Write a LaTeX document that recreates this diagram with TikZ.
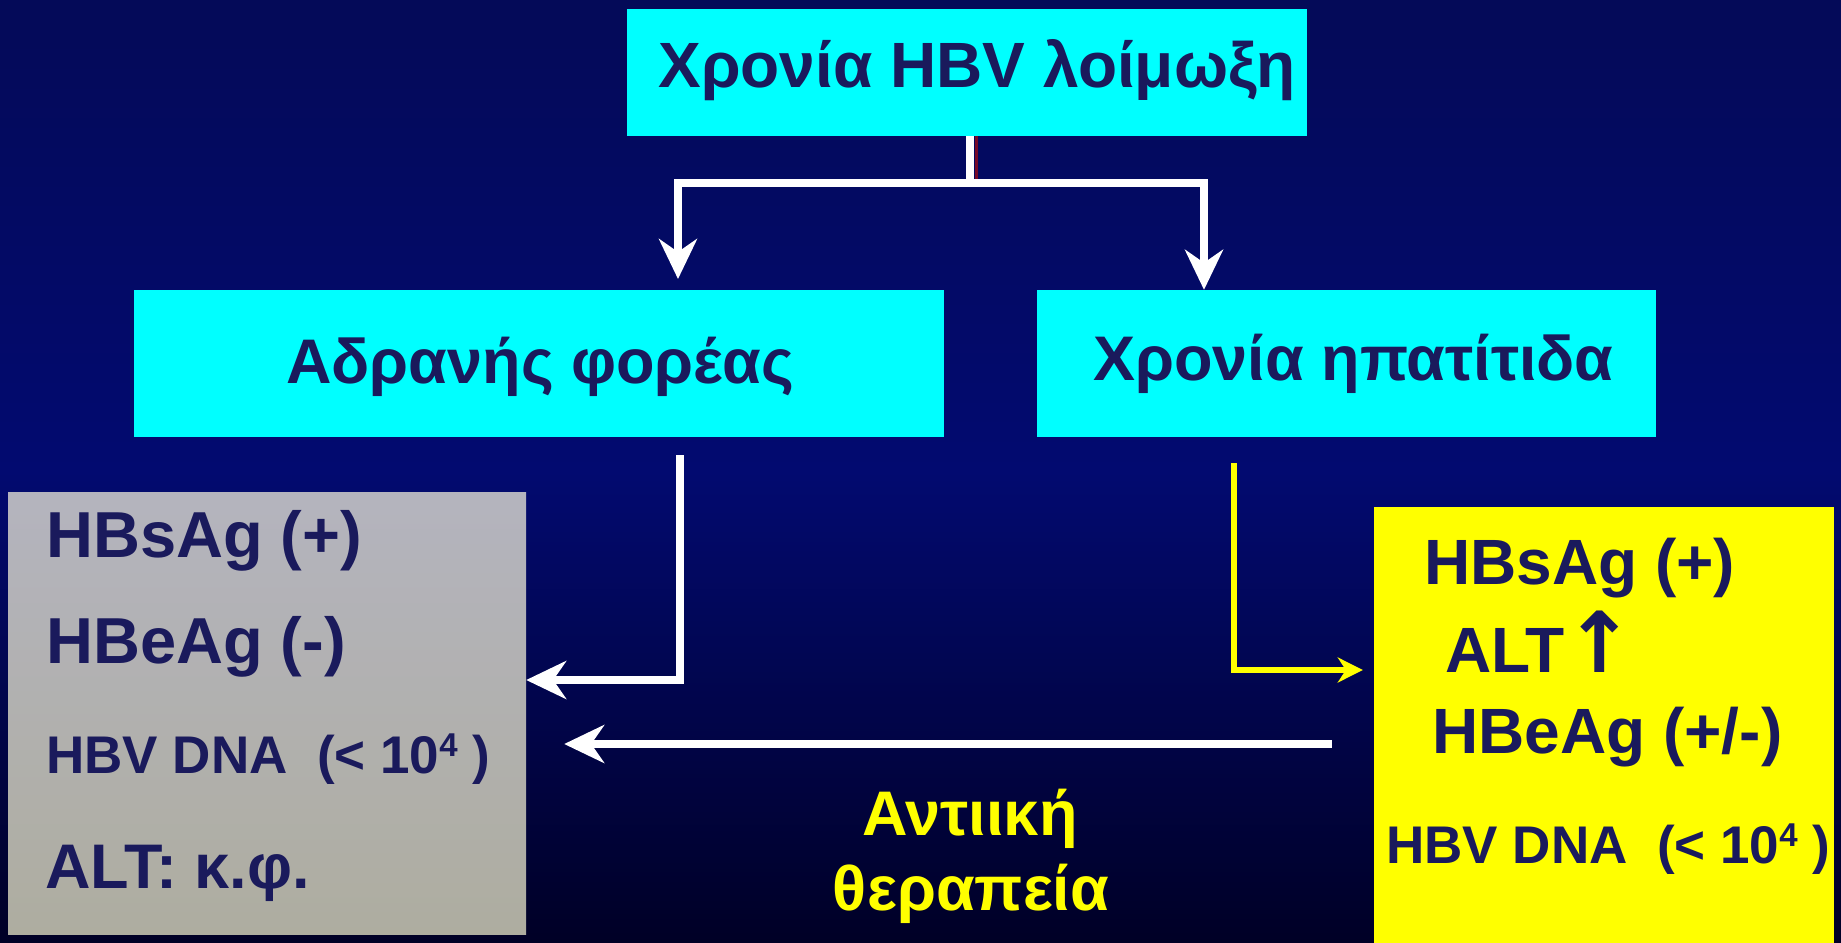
\documentclass[tikz,border=0pt]{standalone}
\usepackage{fontspec}
\setmainfont{Liberation Sans}
\newfontfamily\arrowfont{DejaVu Sans}
\usetikzlibrary{arrows.meta,calc}
\definecolor{navytext}{RGB}{26,26,92}
\definecolor{boxcyan}{RGB}{0,255,255}
\definecolor{boxyellow}{RGB}{255,255,0}
\definecolor{bgtop}{RGB}{4,10,88}
\definecolor{bgmid}{RGB}{2,10,112}
\definecolor{bgbot}{RGB}{0,0,38}
\definecolor{greytop}{RGB}{180,180,190}
\definecolor{greybot}{RGB}{174,173,160}
\definecolor{darkred}{RGB}{120,10,40}
\tikzset{
  cyanbox/.style={fill=boxcyan, draw=none, inner sep=0pt},
  txt/.style={text=navytext, font=\bfseries\fontsize{#1}{#1}\selectfont, inner sep=0pt},
  ytxt/.style={text=boxyellow, font=\bfseries\fontsize{63}{63}\selectfont, inner sep=0pt},
  wline/.style={draw=white, line width=8pt},
  yline/.style={draw=boxyellow, line width=6pt},
  warrow/.style={-{Stealth[length=40pt,width=38pt,inset=13pt]}},
  yarrow/.style={-{Stealth[length=25pt,width=25pt,inset=8pt]}},
}
\newcommand{\supfour}{\raisebox{17pt}{\fontsize{33}{33}\selectfont 4}}
\begin{document}
\begin{tikzpicture}[x=1pt,y=-1pt]
\path[use as bounding box] (0,0) rectangle (1841,942);
\shade[top color=bgtop, bottom color=bgbot, middle color=bgmid] (0,0) rectangle (1841,942);

% boxes
\node[cyanbox, minimum width=680pt, minimum height=127pt] (top) at (967,72.5) {};
\node[cyanbox, minimum width=810pt, minimum height=147pt] (lmid) at (539,363.5) {};
\node[cyanbox, minimum width=619pt, minimum height=147pt] (rmid) at (1346.5,363.5) {};
\shade[top color=greytop, bottom color=greybot] (8,492) rectangle (526,934);
\node[inner sep=0pt, minimum width=518pt, minimum height=442pt] (grey) at (267,713) {};
\node[fill=boxyellow, inner sep=0pt, minimum width=460pt, minimum height=440pt] (yel) at (1604,727) {};

% box texts
\node[txt=64, anchor=base] (toptxt) at (977,87) {Χρονία HBV λοίμωξη};
\node[txt=63, anchor=base] (lmidtxt) at (540,383) {Αδρανής φορέας};
\node[txt=63, anchor=base] (rmidtxt) at (1353.5,380) {Χρονία ηπατίτιδα};

\node[txt=65, anchor=base west] (g1) at (46,557) {HBsAg (+)};
\node[txt=65, anchor=base west] (g2) at (46,663) {HBeAg (-)};
\node[txt=53, anchor=base west] (g3) at (46,773) {HBV DNA~~(< 10\supfour\ )};
\node[txt=63, anchor=base west] (g4) at (45,888) {ALT: κ.φ.};

\node[txt=64, anchor=base west] (y1) at (1424,584) {HBsAg (+)};
\node[txt=64, anchor=base west] (y2) at (1445,672) {ALT};
\node[text=navytext, inner sep=0pt, anchor=base west, font=\arrowfont\bfseries\fontsize{84}{84}\selectfont] (y2a) at (1564,672) {↑};
\node[txt=64, anchor=base west] (y3) at (1432,753) {HBeAg (+/-)};
\node[txt=53, anchor=base west] (y4) at (1386,863) {HBV DNA~~(< 10\supfour\ )};

\node[ytxt, anchor=base] (th1) at (970,835) {Αντιική};
\node[ytxt, anchor=base] (th2) at (971,910) {θεραπεία};

% connectors
\coordinate (split) at (970,183);
\coordinate (lend) at (678,279);
\coordinate (rx) at (1204,183);
\draw[darkred, line width=3pt] ([xshift=6pt]top.south -| split) -- ([xshift=6pt]split);
\draw[wline] (top.south -| split) -- (split);
\draw[wline, warrow] (split) -| (lend);
\draw[wline, warrow] (split) -| (rmid.north -| rx);

\coordinate (lstart) at (680,455);
\coordinate (ly) at (0,680);
\draw[wline, warrow] (lstart) |- (grey.east |- ly);

\coordinate (ystart) at (1234,463);
\coordinate (yy) at (0,670);
\draw[yline, yarrow] (ystart) |- ([xshift=-11pt]yel.west |- yy);

\coordinate (ay) at (0,744);
\draw[wline, warrow] ([xshift=-42pt]yel.west |- ay) -- ([xshift=38pt]grey.east |- ay);
\end{tikzpicture}
\end{document}
